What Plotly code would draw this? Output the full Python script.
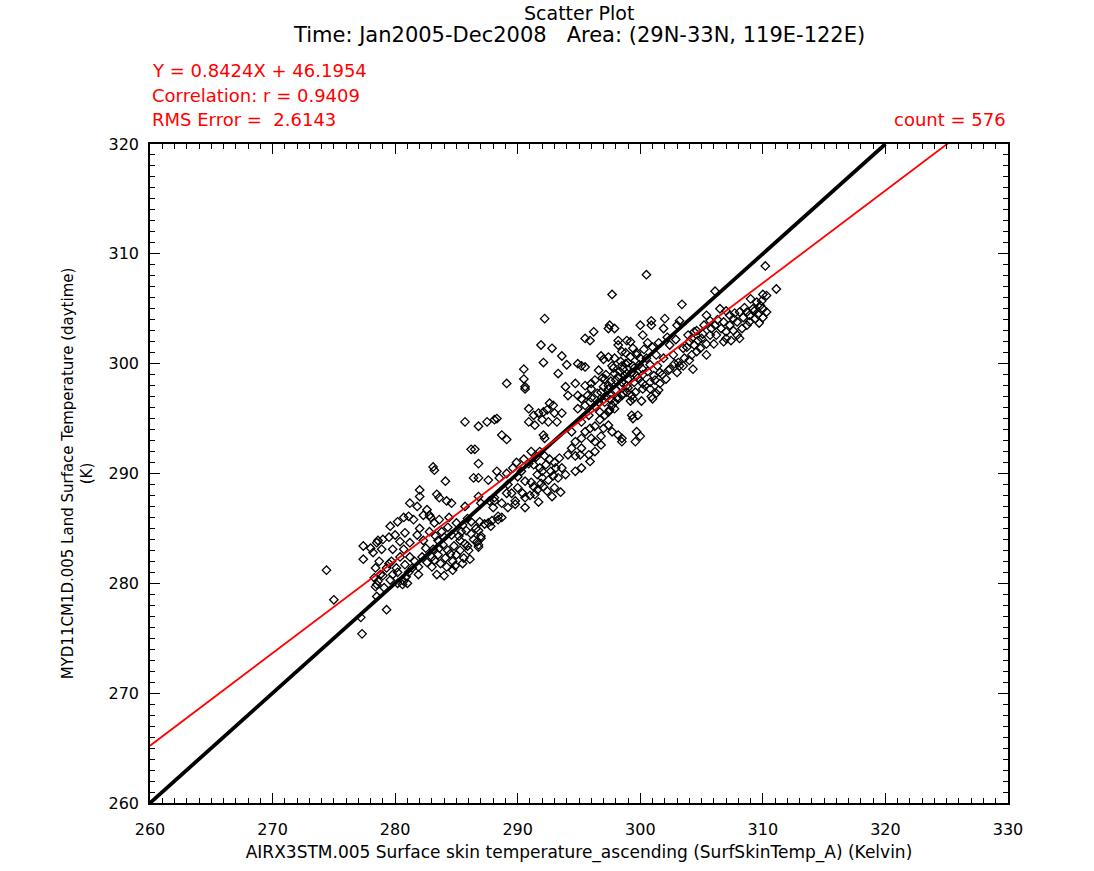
import plotly.graph_objects as go

# ---- data, pairs of (AIRS skin temp, MODIS LST) ----
pts_outliers = [(274.4, 281.2), (275.0, 278.5), (277.2, 276.9), (277.3, 275.4), (279.3, 277.6), (278.5, 278.8)]

pts_lowleft = [
    (277.4, 283.4), (277.4, 282.2), (278.2, 282.8), (278.5, 283.7), (278.9, 283.1), (278.7, 282.0), (278.4, 281.4),
    (278.8, 280.8), (278.5, 279.9), (279.0, 280.7), (279.3, 281.4), (279.7, 282.0), (279.8, 283.1), (280.4, 283.8),
    (280.7, 283.1), (280.4, 282.4), (280.1, 281.4), (279.8, 280.8), (280.8, 281.7), (281.2, 282.4), (281.1, 281.0),
    (280.7, 280.2), (281.6, 282.0), (281.9, 280.8), (281.2, 283.7), (278.6, 283.9), (278.3, 280.5), (278.6, 280.2),
    (278.4, 279.7), (279.1, 279.6), (279.6, 280.3), (280.2, 280.0), (280.6, 279.9), (280.9, 280.6), (281.4, 281.4),
    (281.9, 281.5), (282.2, 282.4), (282.5, 283.2), (282.3, 283.9), (281.8, 284.4), (282.0, 285.0), (282.8, 284.7),
    (283.2, 285.5), (281.5, 285.8), (280.8, 284.6), (280.0, 284.4), (279.5, 284.2), (279.0, 284.0), (278.0, 283.2),
    (279.5, 281.8), (280.2, 281.0), (281.0, 280.0), (282.6, 281.9), (283.0, 282.4), (283.1, 283.1), (283.5, 283.9),
]

pts_cluster285 = [
    (283.5, 282.6), (284.7, 282.0), (284.7, 281.2), (283.9, 283.5), (285.3, 283.9), (285.8, 284.8), (285.3, 283.0),
    (284.3, 283.0), (285.9, 283.4), (286.2, 284.5), (285.5, 285.3), (284.6, 284.4), (284.0, 284.2), (283.7, 281.8),
    (284.2, 281.5), (285.0, 282.6), (285.6, 282.3), (286.0, 283.0), (286.4, 284.0), (286.6, 285.0), (286.2, 285.6),
    (285.0, 285.5), (284.3, 285.1), (283.8, 284.7), (283.3, 284.3), (284.8, 283.4), (285.2, 284.3), (283.0, 281.5),
    (283.4, 280.8), (284.0, 280.7), (284.9, 281.6), (285.5, 281.8), (286.1, 282.2), (286.8, 283.3), (287.0, 284.1),
    (285.9, 285.9), (284.4, 286.0), (283.6, 285.8), (282.9, 286.0), (286.9, 285.6), (287.3, 285.4), (287.6, 285.5),
    (287.9, 285.7), (287.8, 285.2), (288.4, 285.8), (288.7, 286.0), (286.8, 284.8), (287.0, 284.3), (286.7, 283.8),
    (286.8, 283.5),
]

pts_upperleft = [
    (285.7, 294.7), (286.2, 292.2), (283.1, 290.6), (283.2, 290.3), (284.1, 289.3), (282.0, 288.5), (282.0, 287.9),
    (283.4, 288.1), (283.6, 287.8), (284.2, 287.5), (284.6, 287.3), (281.2, 287.3), (282.6, 286.7), (281.1, 286.1),
    (282.3, 286.2), (282.8, 286.2), (285.7, 287.0), (286.4, 289.6), (280.7, 286.0), (280.2, 285.6), (279.6, 285.2),
    (281.8, 287.0),
]

pts_middle = [
    (290.6, 297.7), (286.8, 294.3), (287.5, 294.7), (288.1, 294.9), (288.3, 295.0), (288.7, 293.5), (289.1, 293.1),
    (286.5, 292.2), (286.8, 290.9), (286.8, 289.6), (286.8, 287.9), (287.0, 287.3), (287.7, 287.5), (288.1, 287.5),
    (288.0, 286.9), (288.4, 286.1), (289.1, 288.2), (289.5, 288.2), (289.8, 287.2), (291.4, 288.1), (291.3, 288.8),
    (292.1, 288.8),
    (287.6, 289.4), (288.3, 290.2), (288.5, 289.6), (289.1, 290.0), (289.6, 290.5), (290.0, 289.7), (290.9, 290.9),
    (290.3, 290.2), (290.6, 289.3), (289.2, 289.0), (290.0, 288.7), (288.1, 287.8), (288.7, 287.3), (289.8, 287.5),
    (289.2, 286.9), (290.6, 287.8), (290.6, 286.9),
    (290.9, 295.9), (291.3, 295.3), (291.7, 295.5), (292.1, 295.6), (292.4, 295.8), (292.6, 296.4), (292.9, 296.2),
    (293.0, 295.5), (293.6, 295.5), (290.9, 294.7), (291.4, 294.4), (292.0, 294.9), (292.5, 294.7), (293.2, 294.7),
    (292.1, 293.5), (292.2, 293.2),
    (291.1, 292.0), (291.5, 291.5), (291.8, 292.0), (292.2, 291.6), (292.6, 291.3), (293.0, 291.0), (291.3, 290.8),
    (291.8, 290.5), (292.3, 290.8), (292.7, 290.2), (293.1, 290.5), (291.6, 289.9), (292.0, 289.6), (292.5, 289.4),
    (292.9, 289.8), (291.1, 289.2), (291.9, 289.1), (293.4, 291.4), (293.6, 290.5), (293.9, 289.9), (293.3, 289.6),
    (293.0, 288.7), (292.4, 288.4), (291.6, 288.5),
    (294.1, 297.1), (294.9, 297.1), (295.2, 296.8), (295.7, 297.1), (296.0, 297.7), (296.8, 297.4), (297.4, 297.7),
    (294.4, 293.8), (294.7, 292.9), (295.2, 293.2), (295.5, 293.8), (295.9, 294.1), (296.3, 294.3), (296.0, 293.2),
    (296.3, 292.9), (296.8, 293.4), (295.2, 292.3), (294.4, 292.3), (294.1, 291.7), (294.7, 291.6), (295.1, 291.7),
    (295.2, 290.5), (294.7, 290.2), (295.9, 291.1), (298.2, 293.5), (298.5, 293.2), (298.5, 292.9), (297.1, 296.5),
    (297.7, 296.2), (297.9, 295.9), (297.4, 295.6),
    (294.9, 295.9), (295.5, 296.2), (295.9, 296.5), (296.3, 296.1), (296.7, 295.6), (297.1, 295.3), (297.5, 295.8),
    (297.9, 296.5), (298.2, 296.8), (298.5, 297.1), (298.9, 297.4), (295.8, 295.3), (295.2, 294.7), (296.7, 294.9),
    (297.4, 294.4), (297.0, 294.1), (297.7, 293.8), (296.8, 292.6), (296.3, 292.0), (295.8, 291.7),
]

pts_upper_mid = [
    (297.7, 306.3), (292.2, 304.1), (297.4, 303.2), (297.9, 303.2), (297.5, 303.5), (296.2, 302.9), (295.5, 302.3),
    (295.9, 302.1), (298.2, 302.1), (298.9, 302.1), (291.9, 301.7), (292.8, 301.4), (293.6, 300.7), (292.1, 300.1),
    (294.0, 299.9), (293.3, 299.1), (290.5, 299.5), (290.5, 298.6), (289.1, 298.2), (290.6, 297.9), (294.9, 300.0),
    (295.2, 299.8), (295.5, 299.7),
    (296.6, 299.4), (296.8, 300.7), (297.4, 300.6), (297.9, 300.5), (298.5, 301.1), (297.7, 299.8), (298.5, 299.8),
    (297.9, 299.1), (298.7, 298.9), (296.3, 298.5), (297.1, 298.6), (297.4, 298.0), (295.5, 298.0), (293.9, 297.9),
    (299.0, 300.1), (297.0, 300.4), (298.2, 301.7), (298.9, 298.0), (298.5, 298.3), (296.0, 298.2), (294.7, 298.2),
    (298.0, 298.5), (298.6, 299.5), (299.0, 298.6), (298.3, 299.3), (298.8, 300.0),
]

pts_right = [
    (300.5, 308.1), (310.2, 308.9), (311.1, 306.8), (310.0, 306.3), (310.3, 306.2), (306.1, 306.6), (303.4, 305.4),
    (309.0, 305.9), (309.5, 305.6), (309.8, 305.3), (309.2, 305.0), (310.0, 305.0), (309.6, 304.5), (308.7, 304.7),
    (308.1, 304.7), (308.5, 305.1),
    (306.5, 305.0), (307.0, 304.8), (307.3, 304.4), (307.6, 304.1), (307.9, 303.8), (308.4, 304.2), (308.7, 303.5),
    (308.9, 303.8), (307.3, 303.5), (307.0, 302.9), (307.9, 302.6), (307.4, 302.1), (307.0, 302.3), (306.6, 303.2),
    (308.1, 302.3), (307.6, 303.0), (309.3, 304.8), (309.9, 305.7), (310.3, 304.7), (310.0, 304.2),
    (302.0, 304.1), (300.9, 303.9), (300.0, 303.5), (300.9, 303.5), (300.2, 302.6), (301.9, 303.2), (303.2, 303.9),
    (303.0, 303.5),
    (305.4, 304.4), (305.7, 303.9), (306.1, 303.5), (304.6, 303.0), (305.0, 302.3), (305.4, 301.8), (306.0, 301.8),
    (304.0, 302.0), (304.4, 301.7), (304.9, 301.4), (306.2, 302.6), (305.7, 302.6), (304.2, 302.3), (304.7, 302.1),
    (305.1, 302.7), (303.8, 301.5),
    (299.2, 302.0), (299.4, 301.4), (299.7, 300.8), (300.0, 300.5), (300.5, 300.5), (300.8, 299.9), (301.3, 300.8),
    (301.9, 300.5), (302.7, 300.8), (303.1, 300.1), (302.4, 299.5), (303.0, 299.2), (301.6, 299.2), (304.3, 299.5),
    (303.5, 301.4), (302.4, 301.7), (300.8, 298.3), (300.2, 298.2), (301.6, 298.2), (299.4, 299.8), (299.7, 298.9),
    (299.3, 299.2), (300.2, 299.5), (301.1, 298.9), (302.1, 298.6), (303.2, 299.8), (303.6, 300.5), (304.2, 300.8),
    (304.6, 301.1), (305.4, 300.8),
]

pts_band300 = [
    (299.3, 297.1), (299.4, 296.8), (300.9, 297.0), (301.3, 297.3), (301.0, 296.8), (299.3, 295.3), (299.4, 295.0),
    (299.8, 295.3), (299.7, 293.8), (300.0, 293.4), (299.6, 292.9), (300.2, 297.7), (301.5, 297.6),
    (297.5, 297.2), (298.0, 297.6), (298.4, 298.0), (299.0, 297.8), (299.5, 298.3), (299.8, 298.7), (300.2, 299.0),
    (299.5, 299.6), (298.9, 299.1), (298.2, 298.8), (297.6, 298.4), (297.0, 297.9), (296.5, 297.3), (296.0, 296.9),
    (296.6, 296.5), (297.2, 297.0), (298.6, 297.3), (299.2, 296.6), (300.4, 298.0), (300.8, 297.7), (301.2, 298.5),
    (301.8, 299.0), (302.3, 299.4), (302.8, 300.0), (303.5, 299.8), (304.0, 300.3),
]

pts_dense_extra = [
    (297.8, 299.6), (298.4, 300.2), (299.2, 300.6), (299.7, 301.0), (300.3, 301.3), (298.8, 301.0), (297.2, 299.0),
    (296.9, 298.7), (299.9, 299.9), (300.6, 299.3), (301.4, 299.8), (299.6, 297.4), (300.1, 296.6), (298.1, 296.9),
    (297.6, 296.7),
    (305.8, 303.2), (306.3, 304.0), (306.8, 303.8), (307.7, 304.6), (308.3, 303.2), (308.9, 304.4), (309.4, 304.1),
    (309.7, 303.7), (306.8, 302.0), (305.2, 303.5), (304.4, 302.9), (303.9, 302.6), (302.9, 302.2), (302.2, 302.4),
    (301.5, 301.9), (301.0, 301.5), (300.6, 301.9),
    (290.4, 288.2), (291.0, 288.0), (291.7, 287.4), (292.8, 287.9), (293.5, 288.3), (292.0, 290.2), (290.5, 291.3),
    (289.9, 291.0),
    (284.5, 282.7), (283.2, 282.1), (285.7, 283.6), (284.1, 282.3), (285.4, 284.7), (283.6, 283.2),
]

# regression / statistics printed on the chart
slope = 0.8424
intercept = 46.1954
corr_r = 0.9409
rms_err = 2.6143
count = 576

x_range = [260, 330]
y_range = [260, 320]

all_pts = (pts_outliers + pts_lowleft + pts_cluster285 + pts_upperleft + pts_middle
           + pts_upper_mid + pts_right + pts_band300 + pts_dense_extra)
xs = [p[0] for p in all_pts]
ys = [p[1] for p in all_pts]

FONT = "DejaVu Sans"

fig = go.Figure()

fig.add_trace(go.Scatter(
    x=xs, y=ys, mode="markers",
    marker=dict(symbol="diamond-open", size=6.5, color="black", line=dict(width=1.3, color="black")),
    showlegend=False, hoverinfo="x+y",
))

# 1:1 line
fig.add_trace(go.Scatter(
    x=[260, 320], y=[260, 320], mode="lines",
    line=dict(color="black", width=3.8), showlegend=False, hoverinfo="skip",
))

# regression line
reg_x = [260, 330]
reg_y = [slope * v + intercept for v in reg_x]
fig.add_trace(go.Scatter(
    x=reg_x, y=reg_y, mode="lines",
    line=dict(color="#ff0000", width=1.8), showlegend=False, hoverinfo="skip",
))

axis_common = dict(
    showgrid=False, zeroline=False, showline=True, linecolor="black", linewidth=1.5,
    tickmode="linear", tick0=260, dtick=10,
    ticks="inside", ticklen=10, tickwidth=1.2, tickcolor="black", mirror="ticks",
    minor=dict(ticks="inside", ticklen=5, tickwidth=1.2, tickcolor="black", dtick=1, showgrid=False),
    tickfont=dict(family=FONT, size=16, color="black"),
)

fig.update_xaxes(
    range=x_range,
    title=dict(text="AIRX3STM.005 Surface skin temperature_ascending (SurfSkinTemp_A) (Kelvin)",
               font=dict(family=FONT, size=17, color="black"), standoff=8),
    ticklabelstandoff=11,
    **axis_common,
)
fig.update_yaxes(
    range=y_range,
    title=dict(text="MYD11CM1D.005 Land Surface Temperature (daytime)<br>(K)",
               font=dict(family=FONT, size=15, color="black"), standoff=12),
    ticklabelstandoff=6,
    **axis_common,
)

red = "#ff0000"
annos = [
    dict(text="Scatter Plot", x=0.5, xanchor="center", y=1, yanchor="middle", yshift=131,
         font=dict(family=FONT, size=19, color="black")),
    dict(text="Time: Jan2005-Dec2008   Area: (29N-33N, 119E-122E)", x=0.5, xanchor="center",
         y=1, yanchor="middle", yshift=109, font=dict(family=FONT, size=21, color="black")),
    dict(text=f"Y = {slope:.4f}X + {intercept:.4f}", x=0, xanchor="left", y=1, yanchor="middle",
         yshift=74, font=dict(family=FONT, size=18, color=red)),
    dict(text=f"Correlation: r = {corr_r:.4f}", x=0, xanchor="left", y=1, yanchor="middle",
         yshift=49, font=dict(family=FONT, size=18, color=red)),
    dict(text=f"RMS Error =  {rms_err:.4f}", x=0, xanchor="left", y=1, yanchor="middle",
         yshift=25, font=dict(family=FONT, size=18, color=red)),
    dict(text=f"count = {count}", x=1, xanchor="right", y=1, yanchor="middle",
         yshift=25, font=dict(family=FONT, size=18, color=red)),
]
for a in annos:
    a.update(xref="paper", yref="paper", showarrow=False)

fig.update_layout(
    width=1094, height=871,
    margin=dict(l=150, r=86, t=144, b=64),
    paper_bgcolor="white", plot_bgcolor="white",
    annotations=annos,
    font=dict(family=FONT, color="black"),
)

# remove the default 8px page margin so the figure fills the window exactly
fig.write_html("out.html", config={"displayModeBar": False},
               post_script="document.body.style.margin='0px';")
